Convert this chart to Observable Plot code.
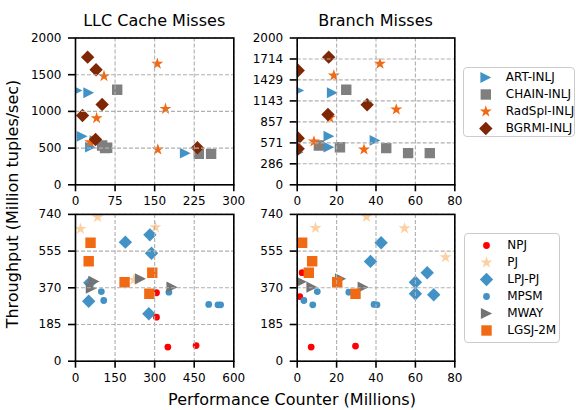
<!DOCTYPE html>
<html><head><meta charset="utf-8">
<script src="https://cdn.jsdelivr.net/npm/d3@7"></script>
<script src="https://cdn.jsdelivr.net/npm/@observablehq/plot@0.6"></script>
<style>
body{margin:0;background:#fff}
#fig{position:relative;width:576px;height:410px;font-family:"DejaVu Sans",sans-serif;color:#000;overflow:hidden;background:#fff}
.leg{position:absolute;box-sizing:border-box;border:1.5px solid #cccccc;border-radius:4px;background:rgba(255,255,255,0.8)}
</style></head><body><div id="fig"></div>
<script>
// ---------- tick values ----------
const llcTicks = [0, 75, 150, 225, 300];
const branchTicks = [0, 20, 40, 60, 80];
const topLeftYTicks = [0, 500, 1000, 1500, 2000];
const topRightYTicks = [0, 286, 571, 857, 1143, 1429, 1714, 2000];
const bottomLeftXTicks = [0, 150, 300, 450, 600];
const bottomRightXTicks = [0, 20, 40, 60, 80];
const bottomYTicks = [0, 185, 370, 555, 740];

// ---------- top row: [counter (millions), throughput] ----------
const llcART = [[3,1285],[25,1254],[12.6,660],[28.4,512],[37,600],[208,431]];
const branchART = [[0.8,1285],[17.8,1254],[16.1,662],[16.1,512],[39.5,604],[0.5,444]];
const llcCHAIN = [[79,1295],[50.5,535],[60,504],[56,500],[233.7,422],[257,422]];
const branchCHAIN = [[24.9,1295],[11,535],[21.7,512],[45.2,499],[56.3,431],[67.3,431]];
const llcRadSpl = [[155,1649],[54,1480],[170.5,1035],[40,908],[156,481],[28,580]];
const branchRadSpl = [[42,1649],[18.6,1489],[50.3,1026],[16.6,913],[33.9,481],[8.5,590]];
const llcBGRMI = [[23,1739],[39,1567],[50.5,1094],[13.3,944],[38,617],[231,504]];
const branchBGRMI = [[16,1739],[0.5,1558],[35.5,1090],[15.6,958],[0.5,635],[0.5,490]];

// ---------- bottom row ----------
const llcNPJ = [[307,345],[307,222],[350,71],[457,79]];
const branchNPJ = [[2.5,446],[1.3,326],[7.1,71],[29.6,76]];
const llcPJ = [[19,667],[84,726],[303,675],[221,410]];
const branchPJ = [[9.3,672],[35.2,728],[54.5,670],[75.3,524]];
const llcLPJ = [[282,637],[189,600],[288,544],[54,395],[50,302],[278,239]];
const branchLPJ = [[42.6,597],[37.2,503],[66,446],[60,398],[60,340],[69.3,335]];
const llcMPSM = [[98,351],[107,306],[354,348],[505,286],[540,284],[550,284]];
const branchMPSM = [[10.2,351],[3.4,306],[7.9,284],[26.2,348],[39,286],[40.5,284]];
const llcMWAY = [[70,402],[60,368],[246,415],[366,373]];
const branchMWAY = [[2,400],[7.5,373],[22,415],[33.5,373]];
const llcLGSJ = [[57,597],[50,504],[291,446],[186,398],[280,340]];
const branchLGSJ = [[2.5,597],[7.6,504],[5.9,446],[20.3,398],[29.6,340]];

// ---------- marker shapes (matplotlib-like) ----------
function sym(fn){ return {draw(c, size){ fn(c, Math.sqrt(size / Math.PI)); }}; }
const triRight = sym((c,r)=>{ c.moveTo(r,0); c.lineTo(-r,-r); c.lineTo(-r,r); c.closePath(); });
const square = sym((c,r)=>{ c.moveTo(-r,-r); c.lineTo(r,-r); c.lineTo(r,r); c.lineTo(-r,r); c.closePath(); });
const diamond = sym((c,r)=>{ c.moveTo(0,-r); c.lineTo(r,0); c.lineTo(0,r); c.lineTo(-r,0); c.closePath(); });
const star = sym((c,r)=>{ const ri = r*0.382; for(let i=0;i<10;i++){ const a=-Math.PI/2+i*Math.PI/5, rr=i%2?ri:r; const x=rr*Math.cos(a), y=rr*Math.sin(a); if(i) c.lineTo(x,y); else c.moveTo(x,y);} c.closePath(); });
const circle = sym((c,r)=>{ c.moveTo(r,0); c.arc(0,0,r,0,2*Math.PI); });

const topSeries = [
  {name:"ART-INLJ", color:"#4292c6", symbol:triRight, r:5.4, left:llcART, right:branchART},
  {name:"CHAIN-INLJ", color:"#7f7f7f", symbol:square, r:5.2, left:llcCHAIN, right:branchCHAIN},
  {name:"RadSpl-INLJ", color:"#f16913", symbol:star, r:6.3, left:llcRadSpl, right:branchRadSpl},
  {name:"BGRMI-INLJ", color:"#7f2704", symbol:diamond, r:6.7, left:llcBGRMI, right:branchBGRMI}
];
const bottomSeries = [
  {name:"NPJ", color:"#ff0000", symbol:circle, r:3.4, left:llcNPJ, right:branchNPJ},
  {name:"PJ", color:"#fdd0a2", symbol:star, r:6.3, left:llcPJ, right:branchPJ},
  {name:"LPJ-PJ", color:"#4292c6", symbol:diamond, r:6.7, left:llcLPJ, right:branchLPJ},
  {name:"MPSM", color:"#4292c6", symbol:circle, r:3.4, left:llcMPSM, right:branchMPSM},
  {name:"MWAY", color:"#737373", symbol:triRight, r:5.6, left:llcMWAY, right:branchMWAY},
  {name:"LGSJ-2M", color:"#f16913", symbol:square, r:5.2, left:llcLGSJ, right:branchLGSJ}
];

const fig = document.getElementById("fig");
const GRID = "#b0b0b0";
const baseStyle = {background:"transparent", overflow:"visible", fontFamily:"DejaVu Sans", fontSize:"12px", color:"black", position:"absolute"};

function panel(o){
  const chart = Plot.plot({
    width:o.w, height:o.h,
    marginLeft:o.fl - o.x0, marginRight:o.x0 + o.w - o.fr,
    marginTop:o.ft - o.y0, marginBottom:o.y0 + o.h - o.fb,
    style:{...baseStyle, left:o.x0+"px", top:o.y0+"px"},
    x:{domain:o.xDomain}, y:{domain:o.yDomain},
    marks:[
      ...o.series.map(s => Plot.dot(s[o.side], {x:d=>d[0], y:d=>d[1], symbol:s.symbol, r:s.r, fill:s.color, stroke:"none", clip:true})),
      Plot.ruleX(o.xTicks, {x:d=>d, stroke:GRID, strokeWidth:1.1, strokeDasharray:"4,2"}),
      Plot.ruleY(o.yTicks, {y:d=>d, stroke:GRID, strokeWidth:1.1, strokeDasharray:"4,2"}),
      Plot.frame({stroke:"black", strokeWidth:1.6}),
      Plot.axisX({ticks:o.xTicks, tickSize:7, tickPadding:5, strokeWidth:1.6, label:null, tickFormat:d=>String(d), fontSize:12}),
      Plot.axisY({ticks:o.yTicks, tickSize:7, tickPadding:7, strokeWidth:1.6, label:null, tickFormat:d=>String(d), fontSize:12})
    ]
  });
  fig.appendChild(chart);
}

const L = {x0:0, w:255, fl:75, fr:233.3};
const R = {x0:255, w:207, fl:296.7, fr:454.3};
const T = {y0:30, h:178, ft:37.5, fb:184.3};
const B = {y0:208, h:184, ft:213.9, fb:360.7};

panel({...L, ...T, series:topSeries, side:"left", xDomain:[0,300], xTicks:llcTicks, yDomain:[0,2000], yTicks:topLeftYTicks});
panel({...R, ...T, series:topSeries, side:"right", xDomain:[0,80], xTicks:branchTicks, yDomain:[0,2000], yTicks:topRightYTicks});
panel({...L, ...B, series:bottomSeries, side:"left", xDomain:[0,600], xTicks:bottomLeftXTicks, yDomain:[0,740], yTicks:bottomYTicks});
panel({...R, ...B, series:bottomSeries, side:"right", xDomain:[0,80], xTicks:bottomRightXTicks, yDomain:[0,740], yTicks:bottomYTicks});

// ---------- legends ----------
function legend(series, box, first, last, markerX, textDx){
  const div = document.createElement("div");
  div.className = "leg";
  Object.assign(div.style, {left:box.x+"px", top:box.y+"px", width:box.w+"px", height:box.h+"px"});
  fig.appendChild(div);
  const chart = Plot.plot({
    width:box.w, height:box.h,
    marginLeft:markerX - box.x, marginRight:0, marginTop:first - box.y, marginBottom:box.y + box.h - last,
    style:{...baseStyle, left:box.x+"px", top:box.y+"px"},
    y:{type:"point", domain:series.map(s=>s.name), padding:0, axis:null},
    x:{axis:null},
    marks:[
      ...series.map(s => Plot.dot([s], {y:"name", frameAnchor:"left", symbol:s.symbol, r:s.r, fill:s.color, stroke:"none"})),
      Plot.text(series, {y:"name", text:"name", frameAnchor:"left", dx:textDx, textAnchor:"start", fontSize:12, fill:"black"})
    ]
  });
  fig.appendChild(chart);
}
legend(topSeries, {x:462.7, y:66.7, w:112.3, h:70.6}, 75.7, 128.3, 485, 20);
legend(bottomSeries, {x:464, y:233.3, w:96, h:109.4}, 244, 331, 486, 20.7);

// ---------- titles and axis labels ----------
const NS = "http://www.w3.org/2000/svg";
const ov = document.createElementNS(NS, "svg");
ov.setAttribute("width", 576); ov.setAttribute("height", 410);
Object.assign(ov.style, {position:"absolute", left:"0px", top:"0px", fontFamily:"DejaVu Sans"});
const texts = [
  {t:"LLC Cache Misses", x:154.2, y:26, rot:0},
  {t:"Branch Misses", x:375.5, y:26, rot:0},
  {t:"Performance Counter (Millions)", x:292, y:405, rot:0},
  {t:"Throughput (Million tuples/sec)", x:17.5, y:204, rot:-90}
];
for (const d of texts){
  const el = document.createElementNS(NS, "text");
  el.textContent = d.t;
  el.setAttribute("text-anchor", "middle");
  el.setAttribute("font-size", 16);
  el.setAttribute("transform", `translate(${d.x},${d.y}) rotate(${d.rot})`);
  ov.appendChild(el);
}
fig.insertBefore(ov, fig.firstChild);
</script></body></html>
